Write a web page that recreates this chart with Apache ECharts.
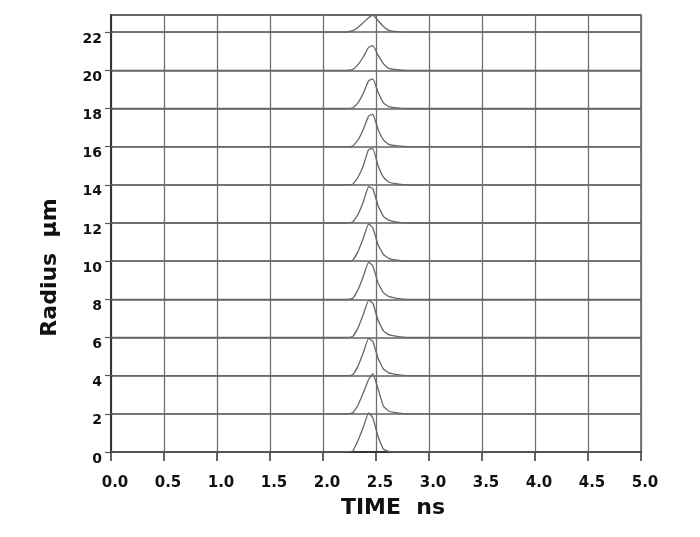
<!DOCTYPE html>
<html>
<head>
<meta charset="utf-8">
<script src="https://cdn.jsdelivr.net/npm/echarts@6/dist/echarts.min.js"></script>
<style>html,body{margin:0;padding:0;background:#fff;}#c{width:700px;height:537px;}</style>
</head>
<body>
<div id="c"></div>
<script>
// Time samples (ns) shared by all traces
var timeNs = [0, 2.20, 2.28, 2.33, 2.38, 2.43, 2.47, 2.52, 2.57, 2.62, 2.70, 2.80, 5.0];
// Radius of each trace (µm)
var radii = [0, 2, 4, 6, 8, 10, 12, 14, 16, 18, 20, 22];
// Trace values (offset by radius)
var trace0  = [0, 0, 0.05, 0.6, 1.3, 2.05, 1.8, 0.8, 0.15, 0.03, 0, 0, 0];
var trace2  = [2, 2, 2.05, 2.45, 3.1, 3.8, 4.1, 3.3, 2.4, 2.15, 2.05, 2, 2];
var trace4  = [4, 4, 4.05, 4.5, 5.2, 5.95, 5.8, 4.9, 4.35, 4.15, 4.06, 4, 4];
var trace6  = [6, 6, 6.05, 6.5, 7.2, 7.95, 7.8, 6.9, 6.35, 6.15, 6.06, 6, 6];
var trace8  = [8, 8, 8.05, 8.5, 9.2, 9.95, 9.75, 8.85, 8.35, 8.15, 8.05, 8, 8];
var trace10 = [10, 10, 10.05, 10.5, 11.2, 11.95, 11.75, 10.85, 10.35, 10.15, 10.05, 10, 10];
var trace12 = [12, 12, 12.05, 12.45, 13.1, 13.9, 13.8, 12.9, 12.35, 12.15, 12.05, 12, 12];
var trace14 = [14, 14, 14.03, 14.4, 15.0, 15.85, 15.9, 15.0, 14.4, 14.15, 14.05, 14, 14];
var trace16 = [16, 16, 16.03, 16.35, 16.9, 17.6, 17.7, 16.9, 16.35, 16.12, 16.04, 16, 16];
var trace18 = [18, 18, 18.03, 18.3, 18.8, 19.45, 19.55, 18.85, 18.3, 18.1, 18.03, 18, 18];
var trace20 = [20, 20, 20.05, 20.3, 20.7, 21.2, 21.3, 20.8, 20.35, 20.1, 20.03, 20, 20];
var trace22 = [22, 22, 22.08, 22.25, 22.5, 22.75, 22.9, 22.6, 22.3, 22.1, 22.03, 22, 22];
var traces = [trace0, trace2, trace4, trace6, trace8, trace10, trace12, trace14, trace16, trace18, trace20, trace22];

var series = traces.map(function (vals, i) {
  return {
    type: 'line',
    name: 'r' + radii[i],
    showSymbol: false,
    smooth: 0.12,
    lineStyle: { color: '#666', width: 1.3 },
    data: vals.map(function (v, j) { return [timeNs[j], v]; }),
    z: 3
  };
});

var chart = echarts.init(document.getElementById('c'));
chart.setOption({
  backgroundColor: '#fff',
  animation: false,
  grid: { left: 111, right: 59, top: 15, bottom: 85, show: true, borderColor: '#555', borderWidth: 1.5 },
  xAxis: {
    type: 'value', min: 0, max: 5, interval: 0.5,
    name: 'TIME  ns', nameLocation: 'middle', nameGap: 45,
    nameTextStyle: { fontFamily: 'DejaVu Sans', fontWeight: 'bold', fontSize: 22, color: '#111', padding: [0, 0, 0, 34] },
    axisLine: { lineStyle: { color: '#333', width: 2 } },
    axisTick: { inside: false, length: 9, lineStyle: { color: '#333', width: 1.5 } },
    axisLabel: { fontFamily: 'DejaVu Sans', fontWeight: 'bold', fontSize: 15, color: '#111', margin: 24,
      padding: [0, 0, 0, 8], formatter: function (v) { return v.toFixed(1); } },
    splitLine: { show: true, lineStyle: { color: '#707070', width: 1.3 } }
  },
  yAxis: {
    type: 'value', min: 0, max: 22.9, interval: 2,
    name: 'Radius  μm', nameLocation: 'middle', nameGap: 50,
    nameTextStyle: { fontFamily: 'DejaVu Sans', fontWeight: 'bold', fontSize: 22, color: '#111', padding: [0, 68, 0, 0] },
    axisLine: { lineStyle: { color: '#333', width: 2 } },
    axisTick: { length: 6, lineStyle: { color: '#555', width: 1.2 } },
    axisLabel: { fontFamily: 'DejaVu Sans', fontWeight: 'bold', fontSize: 14, color: '#111', margin: 9,
      verticalAlign: 'top', showMaxLabel: false,
      formatter: function (v) { return (Math.abs(v % 2) < 1e-9) ? String(v) : ''; } },
    splitLine: { show: true, lineStyle: { color: '#606060', width: 1.5 } }
  },
  series: series
});
</script>
</body>
</html>
